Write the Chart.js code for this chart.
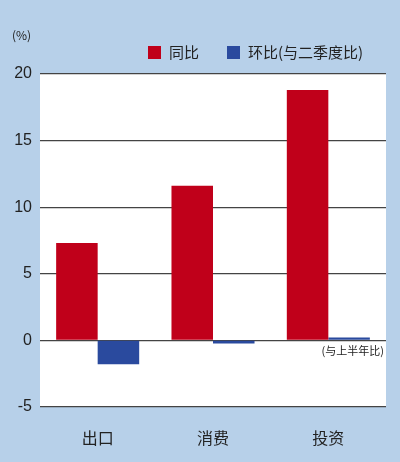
<!DOCTYPE html><html><head><meta charset="utf-8">
<script src="https://cdn.jsdelivr.net/npm/chart.js@4"></script>
<style>html,body{margin:0;padding:0;background:#b7d0e9;}#w{width:400px;height:462px;}</style></head>
<body><div id="w"><canvas id="c" width="400" height="462"></canvas></div>
<script>
const categories=["出口","消费","投资"];
const yoy=[7.3,11.6,18.8];
const qoq=[-1.8,-0.25,0.2];
const seriesNames=["同比","环比(与二季度比)"];
const F='"Noto Sans CJK SC", "Noto Sans", sans-serif';
const deco={id:'deco',
 beforeDraw(ch){const a=ch.chartArea,x=ch.ctx;x.save();x.fillStyle='#fff';x.fillRect(a.left,a.top,a.right-a.left,a.bottom-a.top);x.restore();},
 afterDraw(ch){const x=ch.ctx,a=ch.chartArea,ys=ch.scales.y;x.save();x.fillStyle='#222';
  x.font='12px '+F;x.fillText('(%)',12,40);
  x.font='11px '+F;x.textAlign='right';x.fillText('(与上半年比)',a.right-2,ys.getPixelForValue(-1.1));
  // legend
  x.font='15px '+F;x.textAlign='left';x.textBaseline='middle';
  const ly=52;x.fillStyle='#c0001a';x.fillRect(148,ly-6,13,13);x.fillStyle='#222';x.fillText('同比',169,ly);
  x.fillStyle='#2a4a9e';x.fillRect(227,ly-6,13,13);x.fillStyle='#222';x.fillText('环比(与二季度比)',248,ly);
  x.restore();}};
new Chart(document.getElementById('c'),{type:'bar',
 data:{labels:categories,datasets:[
  {label:seriesNames[0],data:yoy,backgroundColor:'#c0001a'},
  {label:seriesNames[1],data:qoq,backgroundColor:'#2a4a9e'}]},
 options:{responsive:false,animation:false,
  layout:{padding:{top:74,right:14,left:0,bottom:0}},
  plugins:{legend:{display:false},tooltip:{enabled:false}},
  datasets:{bar:{categoryPercentage:0.72,barPercentage:1}},
  scales:{
   x:{grid:{display:false},border:{display:false},ticks:{color:'#222',font:{size:16,family:F},padding:14}},
   y:{min:-5,max:20,afterFit(s){s.width=40;},
    ticks:{stepSize:5,color:'#222',font:{size:16,family:'"Liberation Sans", Arial'},padding:8},
    grid:{color:'#444',lineWidth:1.2,drawTicks:false},border:{display:false}}}},
 plugins:[deco]});
</script></body></html>
